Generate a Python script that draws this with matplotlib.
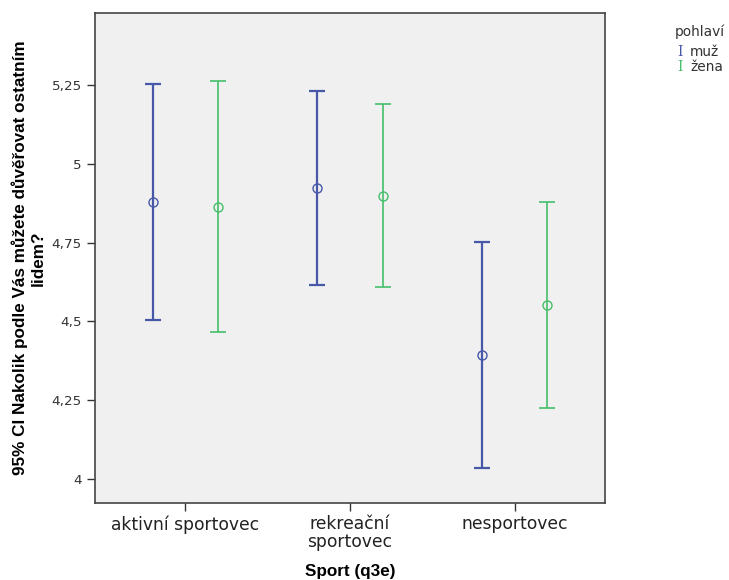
import numpy as np
import matplotlib
matplotlib.use("Agg")
import matplotlib.pyplot as plt
from matplotlib.ticker import FuncFormatter

plt.rcParams['font.family'] = ['DejaVu Sans']

# mean and 95% CI per sport category
categories = ["aktivní sportovec", "rekreační\nsportovec", "nesportovec"]
groups = ["muž", "žena"]
mean_muz = [4.880, 4.924, 4.393]
low_muz = [4.503, 4.616, 4.036]
high_muz = [5.254, 5.230, 4.751]
mean_zena = [4.864, 4.899, 4.551]
low_zena = [4.465, 4.610, 4.224]
high_zena = [5.263, 5.189, 4.880]
yticks = [4, 4.25, 4.5, 4.75, 5, 5.25]

colors = ["#4758a8", "#45be6a"]
bold_font = ['Liberation Sans', 'DejaVu Sans']

fig = plt.figure(figsize=(7.29, 5.8), dpi=100)
ax = fig.add_axes([0.1303, 0.1328, 0.6997, 0.8448])
ax.set_facecolor("#f0f0f0")

x = np.arange(len(categories))
series = [
    (mean_muz, low_muz, high_muz, colors[0], 1.6, -0.2),
    (mean_zena, low_zena, high_zena, colors[1], 1.2, 0.2),
]
for m, lo, hi, col, lw, off in series:
    m, lo, hi = np.array(m), np.array(lo), np.array(hi)
    ax.errorbar(x + off, m, yerr=[m - lo, hi - m], fmt='none', ecolor=col,
                elinewidth=lw, capsize=5.8, capthick=lw)
    ax.plot(x + off, m, 'o', ms=6.5, mfc='none', mec=col, mew=1.0)

ax.set_xlim(-0.55, 2.55)
ax.set_ylim(3.924, 5.478)
ax.set_xticks(x)
ax.set_xticklabels(categories, fontsize=12.3, color="#222222", linespacing=1.0)
ax.set_yticks(yticks)
ax.yaxis.set_major_formatter(FuncFormatter(lambda v, p: f"{v:g}".replace('.', ',')))
ax.tick_params(axis='y', labelsize=9.7, colors="#333333", length=6, width=1)
ax.tick_params(axis='x', length=6, width=1, color="#333333", pad=3)
for s in ax.spines.values():
    s.set_color("#444444")
    s.set_linewidth(1.2)

ax.set_xlabel("Sport (q3e)", fontsize=12.3, fontweight='bold', family=bold_font,
              labelpad=9)
ax.set_ylabel("95% CI Nakolik podle Vás můžete důvěřovat ostatním\nlidem?",
              fontsize=12.3, fontweight='bold', family=bold_font,
              labelpad=4, linespacing=1.25)

# legend drawn as figure text
fig.text(675 / 729, 1 - 32 / 580, "pohlaví", fontsize=9.9, color="#333333",
         va='center', ha='left')
for i, (name, col) in enumerate(zip(groups, colors)):
    yy = 1 - (52 + 15 * i) / 580
    fig.text(677 / 729, yy, "I", fontsize=10, color=col, family='DejaVu Serif',
             va='center', ha='left')
    fig.text(690 / 729, yy, name, fontsize=9.9, color="#333333",
             va='center', ha='left')

fig.savefig("out.png", dpi=100)
